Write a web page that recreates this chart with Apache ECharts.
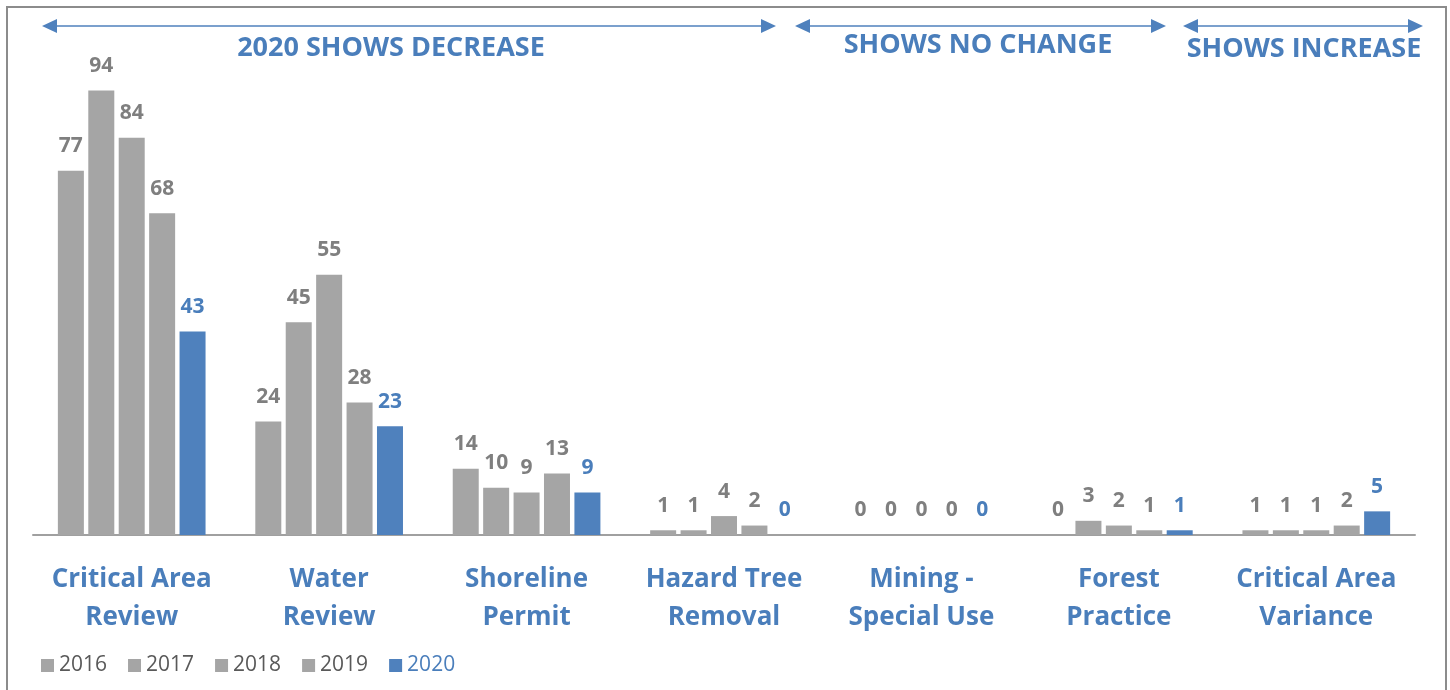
<!DOCTYPE html>
<html>
<head>
<meta charset="utf-8">
<script src="https://cdn.jsdelivr.net/npm/echarts@6/dist/echarts.min.js"></script>
<style>
  html, body { margin: 0; padding: 0; background: #fff; }
  #chart { width: 1450px; height: 690px; }
</style>
</head>
<body>
<div id="chart"></div>
<script>
const categories = ['Critical Area\nReview', 'Water\nReview', 'Shoreline\nPermit', 'Hazard Tree\nRemoval', 'Mining -\nSpecial Use', 'Forest\nPractice', 'Critical Area\nVariance'];
const years = ['2016', '2017', '2018', '2019', '2020'];
const data2016 = [77, 24, 14, 1, 0, 0, 1];
const data2017 = [94, 45, 10, 1, 0, 3, 1];
const data2018 = [84, 55, 9, 4, 0, 2, 1];
const data2019 = [68, 28, 13, 2, 0, 1, 2];
const data2020 = [43, 23, 9, 0, 0, 1, 5];
const allData = [data2016, data2017, data2018, data2019, data2020];

const grey = '#a5a5a5';
const blue = '#4f81bd';
const blueText = '#4a7ebb';
const font = '"Open Sans", Lato, sans-serif';

// arrows + headings across the top
const bands = [
    { x1: 42, x2: 776, text: '2020 SHOWS DECREASE', cx: 391, ty: 48 },
    { x1: 795, x2: 1166, text: 'SHOWS NO CHANGE', cx: 978, ty: 45 },
    { x1: 1183, x2: 1423, text: 'SHOWS INCREASE', cx: 1304, ty: 49 }
];
const arrowY = 26;
const graphics = [{
    type: 'rect',
    shape: { x: 7, y: 7, width: 1439, height: 700 },
    style: { fill: 'none', stroke: '#8c8c8c', lineWidth: 2 }
}];
bands.forEach(b => {
    graphics.push({
        type: 'line',
        shape: { x1: b.x1 + 10, y1: arrowY, x2: b.x2 - 10, y2: arrowY },
        style: { stroke: blue, lineWidth: 1.5 }
    });
    graphics.push({
        type: 'polygon',
        shape: { points: [[b.x1, arrowY], [b.x1 + 15, arrowY - 7], [b.x1 + 15, arrowY + 7]] },
        style: { fill: blue }
    });
    graphics.push({
        type: 'polygon',
        shape: { points: [[b.x2, arrowY], [b.x2 - 15, arrowY - 7], [b.x2 - 15, arrowY + 7]] },
        style: { fill: blue }
    });
    graphics.push({
        type: 'text',
        x: b.cx, y: b.ty,
        style: {
            text: b.text, fill: blueText, font: 'bold 27px ' + font,
            textAlign: 'center', textVerticalAlign: 'middle'
        }
    });
});

const chartDom = document.getElementById('chart');
const myChart = echarts.init(chartDom);

const series = years.map((year, i) => {
    const isLast = i === years.length - 1;
    return {
        name: year,
        type: 'bar',
        data: allData[i],
        barWidth: 26,
        barGap: '17%',
        itemStyle: { color: isLast ? blue : grey },
        label: {
            show: true,
            position: 'top',
            distance: 14,
            color: isLast ? blueText : '#7f7f7f',
            fontSize: 21,
            fontWeight: 'bold',
            fontFamily: font
        }
    };
});

const option = {
    animation: false,
    graphic: graphics,
    grid: { left: 33, right: 35, top: 62, bottom: 155 },
    legend: {
        left: 36,
        top: 650,
        icon: 'rect',
        itemWidth: 13,
        itemHeight: 13,
        itemGap: 21,
        textStyle: { fontSize: 21, color: '#595959', fontFamily: font },
        data: years.map((y, i) => ({
            name: y,
            textStyle: { color: i === years.length - 1 ? blueText : '#595959' }
        }))
    },
    xAxis: {
        type: 'category',
        data: categories,
        axisLine: { lineStyle: { color: '#a0a0a0', width: 2 } },
        axisTick: { show: false },
        axisLabel: {
            color: blueText,
            fontSize: 26,
            fontWeight: 'bold',
            fontFamily: font,
            lineHeight: 38,
            margin: 26,
            interval: 0
        }
    },
    yAxis: {
        type: 'value',
        min: 0,
        max: 100,
        show: false,
        splitLine: { show: false }
    },
    series: series
};

myChart.setOption(option);
</script>
</body>
</html>
